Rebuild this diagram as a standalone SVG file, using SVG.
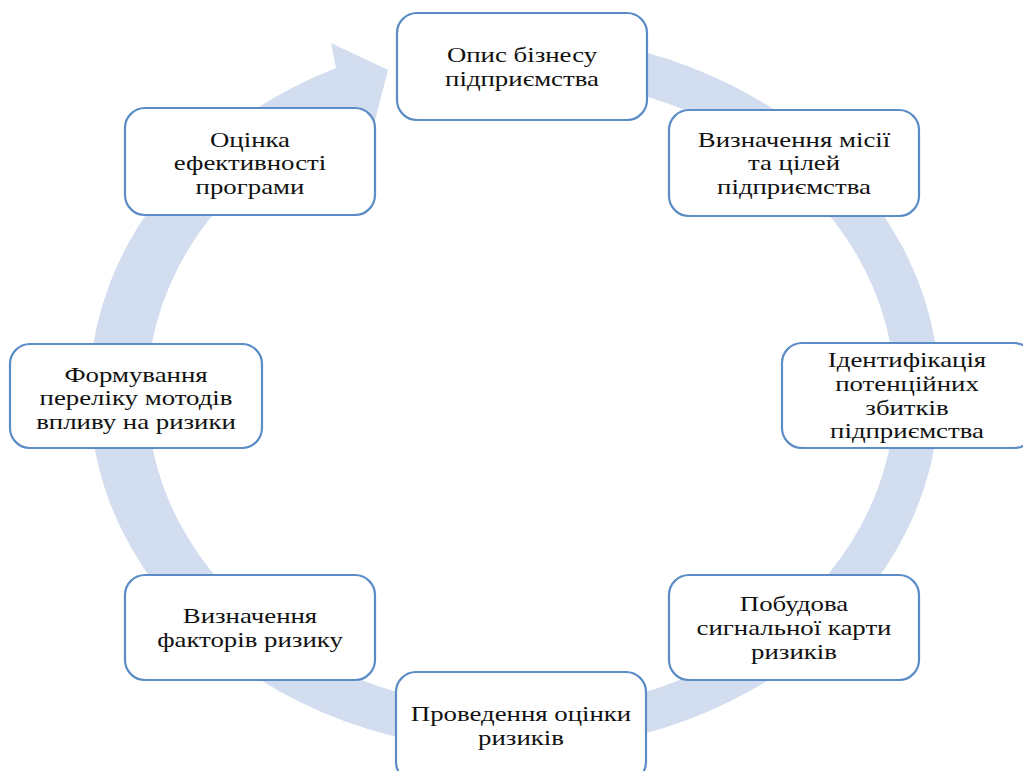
<svg xmlns="http://www.w3.org/2000/svg" width="1023" height="771" viewBox="0 0 1023 771">
<style>
.box{fill:#ffffff;stroke:#5b8cc6;stroke-width:2.2}
.t{font-family:"Liberation Serif","Times New Roman",serif;font-size:22px;fill:#111111;text-anchor:middle}
.band{fill:#d2ddef}
</style>
<rect width="1023" height="771" fill="#ffffff"/>
<g id="connectors">
<path class="band" d="M594.8,41.4 A425,358 0 1 1 336,68 L331,43 L388,70 L370,140 L357,110 A374,316 0 1 0 585.9,82.8 Z"/>
</g>
<g id="n1"><rect class="box" x="397" y="13" width="250" height="107" rx="20"/>
<text class="t" transform="translate(522,0) scale(1.22,1)"><tspan x="0" y="62">Опис бізнесу</tspan><tspan x="0" y="86">підприємства</tspan></text></g>
<g id="n2"><rect class="box" x="669" y="110" width="250" height="106" rx="20"/>
<text class="t" transform="translate(794,0) scale(1.22,1)"><tspan x="0" y="147">Визначення місії</tspan><tspan x="0" y="170">та цілей</tspan><tspan x="0" y="194">підприємства</tspan></text></g>
<g id="n3"><rect class="box" x="782" y="343" width="252" height="105" rx="20"/>
<text class="t" transform="translate(907,0) scale(1.22,1)"><tspan x="0" y="367">Ідентифікація</tspan><tspan x="0" y="391">потенційних</tspan><tspan x="0" y="415">збитків</tspan><tspan x="0" y="438">підприємства</tspan></text></g>
<g id="n4"><rect class="box" x="669" y="575" width="250" height="105" rx="20"/>
<text class="t" transform="translate(794,0) scale(1.22,1)"><tspan x="0" y="611">Побудова</tspan><tspan x="0" y="635">сигнальної карти</tspan><tspan x="0" y="659">ризиків</tspan></text></g>
<g id="n5"><rect class="box" x="396" y="672" width="250" height="110" rx="20"/>
<text class="t" transform="translate(521,0) scale(1.22,1)"><tspan x="0" y="721">Проведення оцінки</tspan><tspan x="0" y="745">ризиків</tspan></text></g>
<g id="n6"><rect class="box" x="125" y="575" width="250" height="105" rx="20"/>
<text class="t" transform="translate(250,0) scale(1.22,1)"><tspan x="0" y="623">Визначення</tspan><tspan x="0" y="647">факторів ризику</tspan></text></g>
<g id="n7"><rect class="box" x="10" y="344" width="252" height="104" rx="20"/>
<text class="t" transform="translate(136,0) scale(1.22,1)"><tspan x="0" y="382">Формування</tspan><tspan x="0" y="405">переліку мотодів</tspan><tspan x="0" y="429">впливу на ризики</tspan></text></g>
<g id="n8"><rect class="box" x="125" y="108" width="250" height="107" rx="20"/>
<text class="t" transform="translate(250,0) scale(1.22,1)"><tspan x="0" y="147">Оцінка</tspan><tspan x="0" y="170">ефективності</tspan><tspan x="0" y="194">програми</tspan></text></g>
</svg>
